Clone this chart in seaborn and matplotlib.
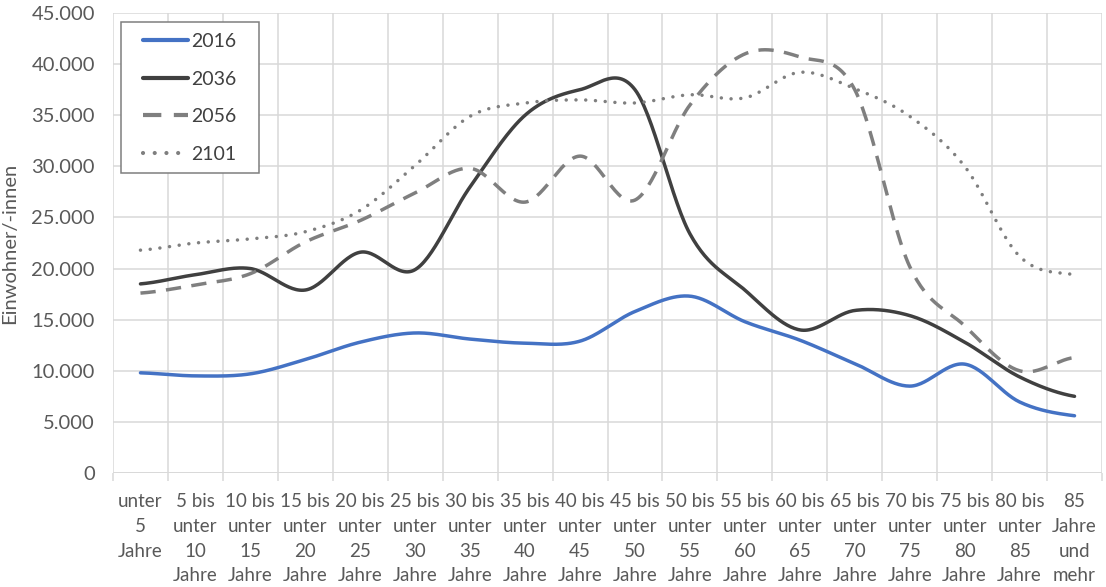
import numpy as np
import pandas as pd
import matplotlib
matplotlib.use("Agg")
import matplotlib.pyplot as plt
import seaborn as sns
from matplotlib.patches import Rectangle
from matplotlib.ticker import FuncFormatter, FixedLocator

# Age groups (x axis)
categories = [
    "unter\n5\nJahre",
    "5 bis\nunter\n10\nJahre",
    "10 bis\nunter\n15\nJahre",
    "15 bis\nunter\n20\nJahre",
    "20 bis\nunter\n25\nJahre",
    "25 bis\nunter\n30\nJahre",
    "30 bis\nunter\n35\nJahre",
    "35 bis\nunter\n40\nJahre",
    "40 bis\nunter\n45\nJahre",
    "45 bis\nunter\n50\nJahre",
    "50 bis\nunter\n55\nJahre",
    "55 bis\nunter\n60\nJahre",
    "60 bis\nunter\n65\nJahre",
    "65 bis\nunter\n70\nJahre",
    "70 bis\nunter\n75\nJahre",
    "75 bis\nunter\n80\nJahre",
    "80 bis\nunter\n85\nJahre",
    "85\nJahre\nund\nmehr",
]

years = ["2016", "2036", "2056", "2101"]

v2016 = [9800, 9500, 9700, 11100, 12800, 13700, 13100, 12700, 12900,
         15800, 17300, 14800, 13000, 10700, 8500, 10650, 6950, 5600]
v2036 = [18500, 19400, 20000, 17900, 21600, 19900, 28000, 35000, 37500,
         37500, 23400, 17900, 14000, 15900, 15400, 12800, 9400, 7500]
v2056 = [17600, 18400, 19500, 22600, 24700, 27400, 29800, 26500, 31000,
         26700, 36000, 41000, 40700, 37500, 20200, 14400, 10000, 11300]
v2101 = [21800, 22500, 22900, 23600, 25700, 30100, 34900, 36200, 36500,
         36200, 37000, 36700, 39200, 37600, 34900, 30000, 21200, 19400]

series = {"2016": v2016, "2036": v2036, "2056": v2056, "2101": v2101}

colors = {"2016": "#4472C4", "2036": "#404040", "2056": "#7F7F7F", "2101": "#7F7F7F"}
styles = {"2016": "-", "2036": "-", "2056": (0, (4.4, 3.0)), "2101": (0, (0.01, 2.8))}
caps = {"2016": "round", "2036": "round", "2056": "butt", "2101": "round"}


def smooth(values, n=30):
    """Smoothed line through the points (Catmull-Rom, as in office charts)."""
    y = np.asarray(values, float)
    x = np.arange(len(y), dtype=float)
    px = np.concatenate([[2 * x[0] - x[1]], x, [2 * x[-1] - x[-2]]])
    py = np.concatenate([[y[0]], y, [y[-1]]])
    xs, ys = [], []
    t = np.linspace(0, 1, n, endpoint=False)
    for i in range(len(y) - 1):
        for p, out in ((px, xs), (py, ys)):
            p0, p1, p2, p3 = p[i], p[i + 1], p[i + 2], p[i + 3]
            out.append(0.5 * ((2 * p1) + (-p0 + p2) * t
                              + (2 * p0 - 5 * p1 + 4 * p2 - p3) * t ** 2
                              + (-p0 + 3 * p1 - 3 * p2 + p3) * t ** 3))
    xs.append([x[-1]])
    ys.append([y[-1]])
    return np.concatenate(xs), np.concatenate(ys)


frames = []
for yr in years:
    sx, sy = smooth(series[yr])
    frames.append(pd.DataFrame({"x": sx, "Einwohner": sy, "Jahr": yr}))
df = pd.concat(frames, ignore_index=True)

sns.set_theme(style="white")
plt.rcParams["font.family"] = ["Lato", "DejaVu Sans"]

W, H = 1106, 587
fig = plt.figure(figsize=(W / 100, H / 100), dpi=100)
L, R, T, B = 113, 1102, 13, 473
ax = fig.add_axes([L / W, 1 - B / H, (R - L) / W, (B - T) / H])


def ax_xy(px, py):
    """Pixel position -> axes fraction."""
    return (px - L) / (R - L), (B - py) / (B - T)


for yr in years:
    sub = df[df["Jahr"] == yr]
    sns.lineplot(data=sub, x="x", y="Einwohner", ax=ax, sort=False,
                 estimator=None, color=colors[yr], linewidth=2.5,
                 label=yr)
    line = ax.lines[-1]
    line.set_linestyle(styles[yr])
    line.set_dash_capstyle(caps[yr])
    line.set_solid_capstyle("round")

grid_c = "#D9D9D9"
text_c = "#595959"

ax.set_xlim(-0.5, len(categories) - 0.5)
ax.set_ylim(0, 45000)
ax.yaxis.set_major_locator(FixedLocator(np.arange(0, 45001, 5000)))
ax.yaxis.set_major_formatter(
    FuncFormatter(lambda v, p: f"{v:,.0f}".replace(",", ".")))

ax.xaxis.set_major_locator(FixedLocator(np.arange(len(categories))))
ax.set_xticklabels(categories)
ax.xaxis.set_minor_locator(FixedLocator(np.arange(len(categories) + 1) - 0.5))

ax.grid(False)
ax.yaxis.grid(True, which="major", color=grid_c, linewidth=1.1)
ax.xaxis.grid(True, which="minor", color=grid_c, linewidth=1.1)
for s in ax.spines.values():
    s.set_visible(False)
ax.axhline(0, color=grid_c, linewidth=1.3, zorder=0.5)

ax.tick_params(axis="x", which="major", length=0, pad=14.5,
               labelsize=13.5, labelcolor=text_c)
ax.tick_params(axis="x", which="minor", length=5.5, width=1.1,
               color=grid_c, bottom=True)
ax.tick_params(axis="y", which="major", length=0, pad=13,
               labelsize=14.5, labelcolor=text_c)
for lbl in ax.get_xticklabels():
    lbl.set_linespacing(1.55)

ax.set_xlabel("")
ax.set_ylabel("Einwohner/-innen", fontsize=14.5, color=text_c)
ax.yaxis.set_label_coords(-95 / (R - L), 0.5)

# Legend entries without their own frame; the box is drawn separately
leg = ax.legend(loc="upper left", bbox_to_anchor=ax_xy(143, 33),
                borderaxespad=0, frameon=False, borderpad=0,
                fontsize=14, handlelength=2.3, handletextpad=0.2,
                labelspacing=1.06, labelcolor="#404040")
for h in leg.get_lines():
    h.set_linewidth(3.0)

x0, y0 = ax_xy(121, 173)
x1, y1 = ax_xy(259, 22)
ax.add_patch(Rectangle((x0, y0), x1 - x0, y1 - y0, transform=ax.transAxes,
                       facecolor="white", edgecolor="#7F7F7F",
                       linewidth=1.1, zorder=4.9))
leg.set_zorder(5)

fig.savefig("out.png", dpi=100)
